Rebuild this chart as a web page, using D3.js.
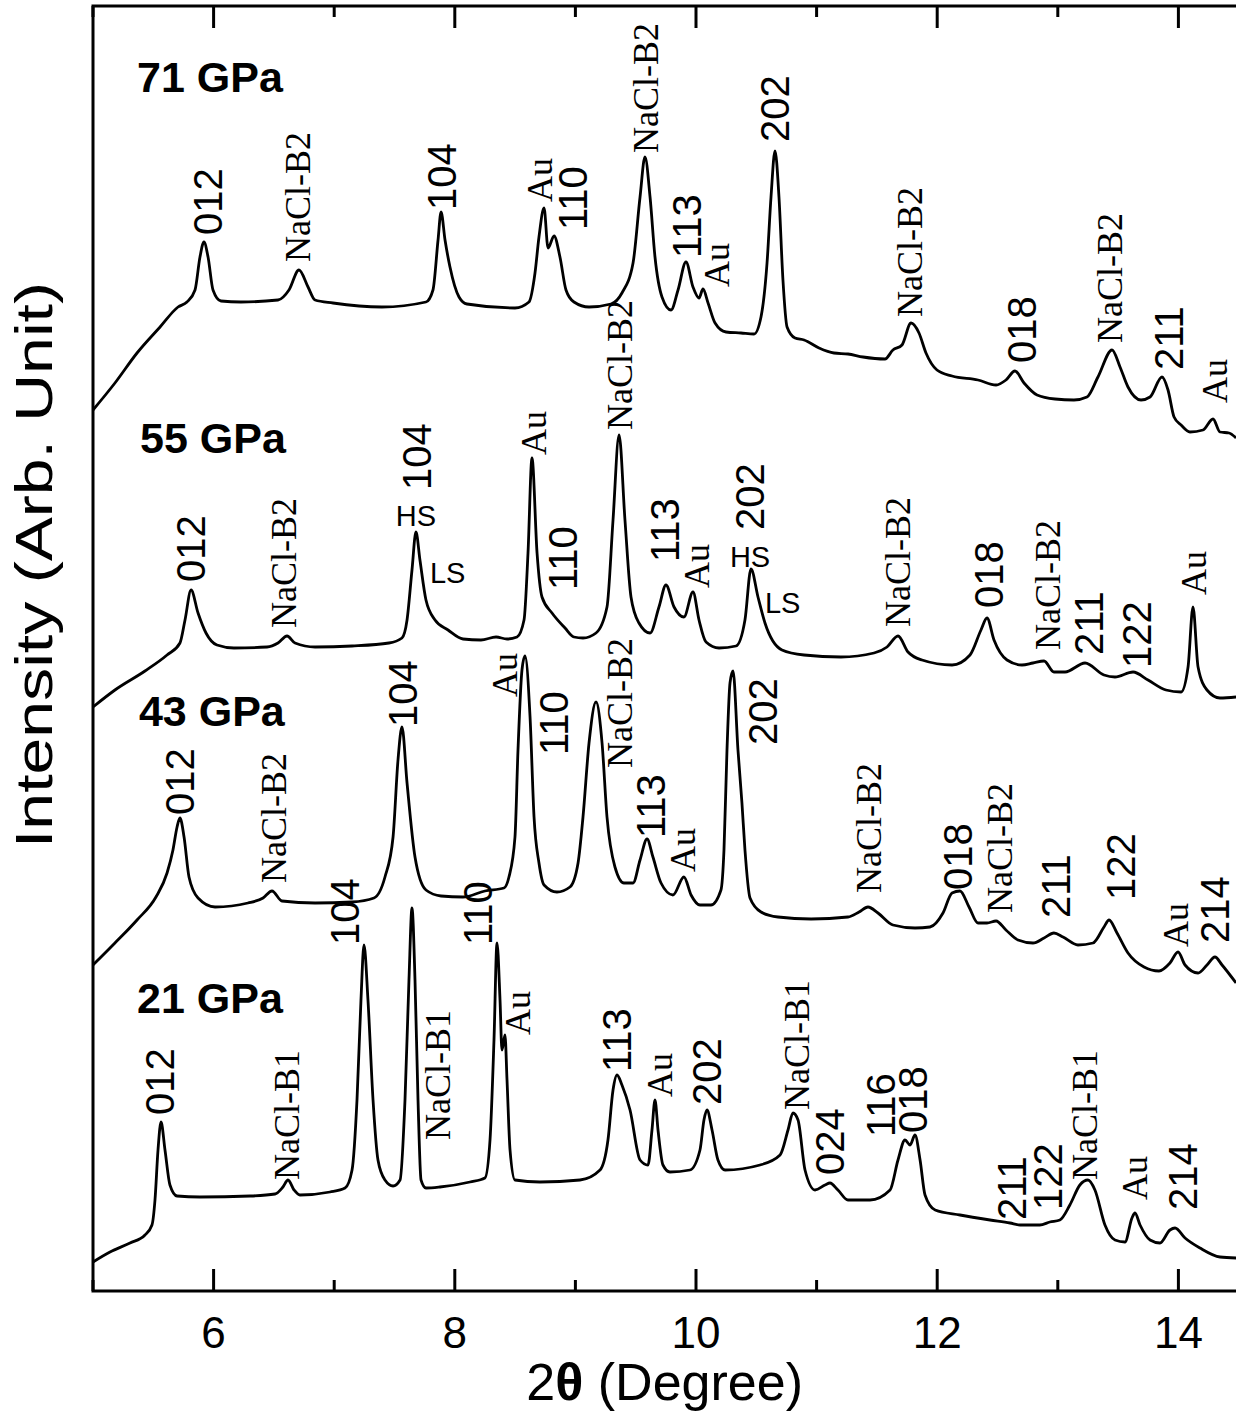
<!DOCTYPE html>
<html>
<head>
<meta charset="utf-8">
<script src="https://cdn.jsdelivr.net/npm/d3@7"></script>
<style>
  html, body { margin: 0; padding: 0; background: #fff; }
  svg { display: block; }
</style>
</head>
<body>
<svg id="chart" width="1236" height="1412"></svg>
<script>
// X-ray diffraction patterns, stacked with vertical offsets (intensity in arbitrary units)

const pressures = ["71 GPa", "55 GPa", "43 GPa", "21 GPa"];
const pressureLabelPos = [[5.365, 119.9], [5.390, 83.8], [5.381, 56.5], [5.365, 27.8]];

const xTicksMajor = [6, 8, 10, 12, 14];
const xTicksMinor = [5, 7, 9, 11, 13];

// [2θ (deg), intensity + offset]
const pattern71 = [
  [5.000, 88.1], [5.182, 90.8], [5.365, 93.8], [5.556, 96.4], [5.705, 98.4], [5.779, 98.9],
  [5.846, 100.1], [5.887, 103.4], [5.920, 104.9], [5.954, 103.4], [5.995, 100.1], [6.061, 99.0],
  [6.227, 98.9], [6.534, 99.1], [6.625, 100.1], [6.708, 102.1], [6.783, 100.4], [6.841, 99.1],
  [6.990, 98.8], [7.396, 98.4], [7.761, 98.9], [7.819, 100.1], [7.861, 105.1], [7.886, 107.9],
  [7.919, 105.1], [7.960, 102.4], [8.035, 99.4], [8.101, 98.7], [8.499, 98.3], [8.615, 98.9],
  [8.665, 101.8], [8.698, 105.4], [8.740, 108.3], [8.773, 104.3], [8.823, 105.5], [8.872, 103.4],
  [8.922, 100.1], [8.988, 98.9], [9.113, 98.4], [9.295, 98.7], [9.386, 99.8], [9.478, 102.8],
  [9.536, 109.4], [9.577, 113.4], [9.619, 109.4], [9.660, 103.4], [9.718, 99.4], [9.793, 98.1],
  [9.851, 100.1], [9.917, 102.9], [9.975, 100.4], [10.025, 99.3], [10.058, 100.2], [10.100, 98.8],
  [10.158, 96.8], [10.249, 95.9], [10.373, 95.8], [10.481, 95.7], [10.539, 97.4], [10.589, 102.8],
  [10.622, 109.4], [10.655, 114.0], [10.688, 109.4], [10.721, 101.1], [10.755, 96.4], [10.821, 95.3],
  [10.896, 95.1], [11.020, 94.3], [11.144, 93.8], [11.260, 93.7], [11.385, 93.4], [11.567, 93.2],
  [11.633, 94.1], [11.708, 94.6], [11.783, 96.8], [11.849, 95.8], [11.907, 93.8], [11.998, 92.1],
  [12.123, 91.5], [12.338, 91.1], [12.488, 90.6], [12.570, 91.1], [12.645, 92.0], [12.720, 90.8],
  [12.828, 89.6], [12.977, 89.2], [13.134, 89.1], [13.242, 89.4], [13.333, 91.4], [13.450, 94.1],
  [13.516, 92.4], [13.582, 90.4], [13.690, 89.1], [13.765, 89.4], [13.864, 91.4], [13.914, 90.1],
  [13.964, 87.4], [14.022, 86.6], [14.096, 85.9], [14.204, 86.1], [14.287, 87.2], [14.345, 85.9],
  [14.420, 85.8], [14.478, 85.3]
];

const pattern55 = [
  [5.000, 58.4], [5.182, 60.1], [5.431, 62.0], [5.614, 63.6], [5.721, 64.8], [5.763, 67.1],
  [5.813, 70.1], [5.871, 67.8], [5.937, 65.8], [6.028, 64.6], [6.169, 64.3], [6.443, 64.4],
  [6.534, 64.8], [6.609, 65.5], [6.675, 64.8], [6.841, 64.4], [7.148, 64.5], [7.454, 64.8],
  [7.562, 65.3], [7.604, 67.1], [7.645, 72.1], [7.678, 75.9], [7.711, 73.1], [7.761, 69.1],
  [7.836, 67.1], [7.944, 66.1], [8.068, 65.2], [8.217, 65.1], [8.342, 65.4], [8.433, 65.2],
  [8.516, 65.4], [8.574, 67.1], [8.607, 73.8], [8.640, 83.3], [8.682, 73.8], [8.723, 69.4],
  [8.806, 67.8], [8.914, 66.3], [8.988, 65.4], [9.063, 65.3], [9.171, 65.8], [9.262, 68.4],
  [9.312, 77.1], [9.362, 85.6], [9.411, 77.1], [9.461, 69.4], [9.527, 66.8], [9.619, 65.8],
  [9.693, 68.4], [9.751, 70.6], [9.818, 68.4], [9.900, 67.4], [9.975, 69.9], [10.025, 67.1],
  [10.083, 64.9], [10.191, 64.3], [10.332, 64.5], [10.406, 67.1], [10.456, 72.2], [10.514, 69.4],
  [10.572, 66.8], [10.713, 64.1], [10.896, 63.6], [11.202, 63.4], [11.476, 63.8], [11.584, 64.4],
  [11.675, 65.5], [11.758, 63.9], [11.874, 63.1], [12.123, 62.6], [12.272, 63.6], [12.363, 66.1],
  [12.413, 67.3], [12.471, 65.1], [12.579, 63.1], [12.703, 62.6], [12.794, 62.8], [12.886, 63.0],
  [12.968, 61.9], [13.060, 61.9], [13.226, 62.8], [13.383, 61.6], [13.474, 61.4], [13.624, 61.9],
  [13.748, 61.1], [13.897, 60.1], [14.022, 59.9], [14.080, 62.4], [14.121, 68.4], [14.163, 62.4],
  [14.237, 60.1], [14.345, 59.3], [14.478, 59.4]
];

const pattern43 = [
  [5.000, 32.6], [5.182, 34.8], [5.365, 37.1], [5.522, 39.4], [5.614, 41.8], [5.663, 44.1],
  [5.697, 46.4], [5.721, 47.3], [5.755, 45.4], [5.796, 41.4], [5.871, 39.3], [6.012, 38.4],
  [6.285, 38.8], [6.410, 39.3], [6.484, 40.0], [6.567, 39.0], [6.841, 38.8], [7.148, 38.9],
  [7.330, 39.3], [7.421, 41.4], [7.488, 45.4], [7.529, 53.1], [7.562, 56.4], [7.604, 50.8],
  [7.670, 43.4], [7.761, 40.1], [7.886, 39.5], [8.068, 39.4], [8.250, 40.0], [8.408, 40.3],
  [8.449, 41.4], [8.499, 45.4], [8.524, 54.1], [8.557, 62.1], [8.582, 63.5], [8.624, 57.4],
  [8.657, 47.4], [8.698, 42.8], [8.740, 40.6], [8.847, 39.9], [8.955, 40.4], [9.022, 42.8],
  [9.063, 47.4], [9.113, 54.8], [9.171, 58.9], [9.221, 54.8], [9.262, 47.4], [9.328, 42.4],
  [9.403, 40.8], [9.478, 40.8], [9.536, 43.1], [9.594, 45.2], [9.643, 43.4], [9.710, 40.8],
  [9.809, 39.6], [9.900, 41.4], [9.959, 39.6], [10.033, 38.6], [10.124, 38.6], [10.207, 40.1],
  [10.232, 44.1], [10.257, 54.1], [10.282, 60.8], [10.307, 62.0], [10.348, 54.1], [10.381, 48.8],
  [10.406, 44.1], [10.448, 39.3], [10.539, 37.9], [10.680, 37.4], [10.954, 37.2], [11.260, 37.4],
  [11.352, 37.9], [11.426, 38.4], [11.509, 37.8], [11.633, 36.6], [11.816, 36.3], [11.940, 36.4],
  [12.048, 37.8], [12.123, 39.8], [12.189, 40.0], [12.264, 38.4], [12.338, 36.8], [12.413, 36.8],
  [12.488, 37.0], [12.570, 36.1], [12.670, 35.1], [12.794, 34.8], [12.886, 35.3], [12.968, 35.8],
  [13.043, 35.4], [13.167, 34.6], [13.292, 34.8], [13.383, 36.4], [13.425, 37.1], [13.491, 35.8],
  [13.582, 33.8], [13.715, 32.4], [13.839, 32.0], [13.930, 32.8], [13.997, 33.9], [14.055, 32.6],
  [14.163, 31.8], [14.237, 32.6], [14.303, 33.4], [14.362, 32.6], [14.478, 30.8]
];

const pattern21 = [
  [5.000, 2.9], [5.141, 3.9], [5.307, 4.8], [5.431, 5.6], [5.489, 6.6], [5.514, 9.1],
  [5.539, 14.1], [5.564, 16.9], [5.597, 14.1], [5.638, 10.6], [5.697, 9.5], [5.887, 9.4],
  [6.302, 9.5], [6.509, 9.7], [6.575, 10.4], [6.617, 11.1], [6.667, 10.1], [6.716, 9.6],
  [6.965, 9.9], [7.090, 10.3], [7.148, 12.1], [7.189, 19.1], [7.222, 29.1], [7.247, 34.6],
  [7.280, 29.1], [7.322, 19.1], [7.363, 13.1], [7.421, 11.1], [7.488, 10.5], [7.546, 11.1],
  [7.587, 19.1], [7.620, 31.1], [7.645, 38.3], [7.670, 31.1], [7.695, 19.1], [7.720, 11.1],
  [7.761, 10.3], [7.877, 10.4], [8.126, 10.9], [8.250, 11.3], [8.292, 15.1], [8.325, 25.1],
  [8.350, 34.8], [8.375, 29.1], [8.391, 24.1], [8.416, 25.6], [8.433, 21.1], [8.458, 14.1],
  [8.499, 11.1], [8.706, 10.9], [9.038, 11.1], [9.204, 12.1], [9.270, 15.1], [9.312, 20.1],
  [9.345, 21.6], [9.386, 20.6], [9.453, 18.1], [9.536, 13.1], [9.602, 12.6], [9.635, 16.1],
  [9.660, 19.1], [9.685, 16.1], [9.726, 12.6], [9.784, 11.9], [9.950, 12.1], [10.033, 14.1],
  [10.066, 17.1], [10.091, 18.1], [10.133, 16.1], [10.182, 13.1], [10.241, 12.1], [10.531, 12.6],
  [10.697, 13.6], [10.763, 16.1], [10.804, 17.8], [10.846, 17.1], [10.904, 12.1], [10.987, 10.1],
  [11.070, 10.6], [11.111, 10.8], [11.177, 10.1], [11.260, 9.1], [11.443, 9.1], [11.609, 10.1],
  [11.675, 13.1], [11.733, 15.1], [11.775, 14.6], [11.816, 15.6], [11.858, 13.1], [11.899, 9.6],
  [11.983, 8.1], [12.189, 7.6], [12.438, 7.1], [12.604, 6.8], [12.687, 6.6], [12.851, 6.6],
  [12.934, 6.9], [13.017, 7.1], [13.100, 8.6], [13.183, 10.6], [13.250, 11.1], [13.308, 10.1],
  [13.391, 6.6], [13.474, 5.1], [13.557, 4.9], [13.615, 7.3], [13.640, 7.8], [13.682, 6.6],
  [13.765, 5.1], [13.847, 4.8], [13.930, 6.1], [13.972, 6.3], [14.055, 5.3], [14.179, 4.3],
  [14.345, 3.4], [14.478, 3.3]
];

// Reflection labels: [text, 2θ, intensity at label foot, phase]
const labels71 = [
  ["012", 5.954, 105.6, "hkl"], ["NaCl-B2", 6.700, 102.9, "salt"], ["104", 7.894, 108.1, "hkl"],
  ["Au", 8.706, 108.9, "salt"], ["110", 8.980, 106.1, "hkl"], ["NaCl-B2", 9.585, 113.8, "salt"],
  ["113", 9.925, 103.3, "hkl"], ["Au", 10.174, 100.4, "salt"], ["202", 10.655, 114.9, "hkl"],
  ["NaCl-B2", 11.774, 97.4, "salt"], ["018", 12.703, 92.8, "hkl"], ["NaCl-B2", 13.433, 94.8, "salt"],
  ["211", 13.922, 92.1, "hkl"], ["Au", 14.304, 88.8, "salt"]
];
const labels55 = [
  ["012", 5.813, 70.9, "hkl"], ["NaCl-B2", 6.584, 66.3, "salt"], ["104", 7.687, 80.1, "hkl"],
  ["Au", 8.657, 83.6, "salt"], ["110", 8.897, 70.1, "hkl"], ["NaCl-B2", 9.370, 86.1, "salt"],
  ["113", 9.743, 72.9, "hkl"], ["Au", 10.008, 70.3, "salt"], ["202", 10.448, 76.1, "hkl"],
  ["NaCl-B2", 11.675, 66.4, "salt"], ["018", 12.430, 68.3, "hkl"], ["NaCl-B2", 12.919, 64.1, "salt"],
  ["211", 13.259, 63.6, "hkl"], ["122", 13.657, 62.3, "hkl"], ["Au", 14.129, 69.6, "salt"]
];
const labels43 = [
  ["012", 5.721, 47.6, "hkl"], ["NaCl-B2", 6.501, 40.8, "salt"], ["104", 7.570, 56.4, "hkl"],
  ["Au", 8.416, 59.4, "salt"], ["110", 8.823, 53.6, "hkl"], ["NaCl-B2", 9.370, 52.3, "salt"],
  ["113", 9.627, 45.3, "hkl"], ["Au", 9.892, 41.9, "salt"], ["202", 10.556, 54.6, "hkl"],
  ["NaCl-B2", 11.434, 39.8, "salt"], ["018", 12.172, 40.1, "hkl"], ["NaCl-B2", 12.521, 37.8, "salt"],
  ["211", 12.985, 37.3, "hkl"], ["122", 13.524, 39.1, "hkl"], ["Au", 13.980, 34.4, "salt"],
  ["214", 14.303, 34.8, "hkl"]
];
const labels21 = [
  ["012", 5.556, 17.6, "hkl"], ["NaCl-B1", 6.609, 11.1, "salt"], ["104", 7.090, 34.6, "hkl"],
  ["NaCl-B1", 7.861, 15.1, "salt"], ["110", 8.192, 34.6, "hkl"], ["Au", 8.524, 25.6, "salt"],
  ["113", 9.345, 21.9, "hkl"], ["Au", 9.701, 19.4, "salt"], ["202", 10.091, 18.6, "hkl"],
  ["NaCl-B1", 10.837, 18.1, "salt"], ["024", 11.111, 11.6, "hkl"], ["116", 11.534, 15.4, "hkl"],
  ["018", 11.799, 15.8, "hkl"], ["211", 12.620, 7.1, "hkl"], ["122", 12.919, 8.1, "hkl"],
  ["NaCl-B1", 13.226, 11.1, "salt"], ["Au", 13.640, 9.1, "salt"], ["214", 14.038, 8.1, "hkl"]
];

// Spin-state markers on the split 55 GPa reflections: [text, 2θ, intensity at baseline, anchor]
const spinLabels55 = [
  ["HS", 7.678, 76.5, "middle"], ["LS", 7.794, 70.8, "start"],
  ["HS", 10.448, 72.4, "middle"], ["LS", 10.572, 67.8, "start"]
];

const patterns = [pattern71, pattern55, pattern43, pattern21];
const labelSets = [labels71, labels55, labels43, labels21];

// ---- layout ----
const svg = d3.select("#chart");
const plotLeft = 93, plotTop = 6, plotBottom = 1291;
const pxPerDeg = 120.6;
const x = d3.scaleLinear().domain([5, 14.5]).range([plotLeft, plotLeft + 9.5 * pxPerDeg]);
const y = d3.scaleLinear().domain([0, 128.5]).range([plotBottom, plotTop]);

const sans = "'Liberation Sans', Arial, Helvetica, sans-serif";
const serif = "'Liberation Serif', 'Times New Roman', serif";

// curves
const line = d3.line()
  .x(d => x(d[0]))
  .y(d => y(d[1]))
  .curve(d3.curveMonotoneX);

svg.append("g")
  .selectAll("path")
  .data(patterns)
  .join("path")
  .attr("d", line)
  .attr("fill", "none")
  .attr("stroke", "#000")
  .attr("stroke-width", 2.8)
  .attr("stroke-linejoin", "round");

// frame and ticks
const frame = svg.append("g").attr("stroke", "#000").attr("stroke-width", 3).attr("fill", "none");
frame.append("rect")
  .attr("x", x(5)).attr("y", y(128.5))
  .attr("width", x(14.5) - x(5)).attr("height", y(0) - y(128.5));

const tickG = svg.append("g").attr("stroke", "#000").attr("stroke-width", 3);
function drawTicks(vals, len) {
  vals.forEach(v => {
    tickG.append("line").attr("x1", x(v)).attr("x2", x(v)).attr("y1", y(0)).attr("y2", y(0) - len);
    tickG.append("line").attr("x1", x(v)).attr("x2", x(v)).attr("y1", y(128.5)).attr("y2", y(128.5) + len);
  });
}
drawTicks(xTicksMajor, 22);
drawTicks(xTicksMinor, 11);

// tick labels
svg.append("g")
  .selectAll("text")
  .data(xTicksMajor)
  .join("text")
  .attr("x", d => x(d))
  .attr("y", 1348)
  .attr("text-anchor", "middle")
  .attr("font-family", sans)
  .attr("font-size", 44)
  .text(d => d);

// axis titles
const xTitle = svg.append("text")
  .attr("x", x(9.74))
  .attr("y", 1400)
  .attr("text-anchor", "middle")
  .attr("font-family", sans)
  .attr("font-size", 52);
xTitle.append("tspan").text("2");
xTitle.append("tspan").attr("font-weight", "bold").text("θ");
xTitle.append("tspan").text(" (Degree)");

svg.append("text")
  .attr("transform", `translate(52, ${y(72.6)}) rotate(-90)`)
  .attr("text-anchor", "middle")
  .attr("font-family", sans)
  .attr("font-size", 52)
  .attr("textLength", 566)
  .attr("lengthAdjust", "spacingAndGlyphs")
  .text("Intensity (Arb. Unit)");

// pressure labels
svg.append("g")
  .selectAll("text")
  .data(pressures)
  .join("text")
  .attr("x", (d, i) => x(pressureLabelPos[i][0]))
  .attr("y", (d, i) => y(pressureLabelPos[i][1]))
  .attr("font-family", sans)
  .attr("font-weight", "bold")
  .attr("font-size", 43)
  .text(d => d);

// reflection labels, rotated to read upward from the peak
const labelG = svg.append("g");
labelSets.forEach(set => {
  labelG.append("g")
    .selectAll("text")
    .data(set)
    .join("text")
    .attr("transform", d => `translate(${x(d[1])},${y(d[2])}) rotate(-90)`)
    .attr("dy", d => d[3] === "hkl" ? "0.36em" : "0.33em")
    .attr("text-anchor", "start")
    .attr("font-family", d => d[3] === "hkl" ? sans : serif)
    .attr("font-size", d => d[3] === "hkl" ? 40 : 36)
    .text(d => d[0]);
});

svg.append("g")
  .selectAll("text")
  .data(spinLabels55)
  .join("text")
  .attr("x", d => x(d[1]))
  .attr("y", d => y(d[2]))
  .attr("text-anchor", d => d[3])
  .attr("font-family", sans)
  .attr("font-size", 29)
  .text(d => d[0]);
</script>
</body>
</html>
